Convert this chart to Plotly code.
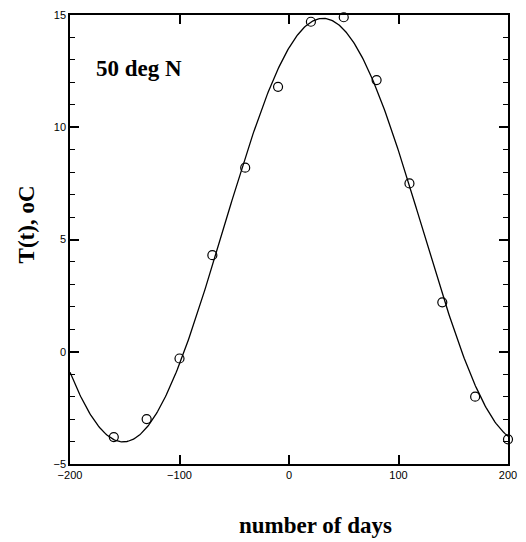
import numpy as np
import plotly.graph_objects as go

# Observed data (days relative to reference, temperature in oC)
days = [-160, -130, -100, -70, -40, -10, 20, 50, 80, 110, 140, 170, 200]
temps = [-3.8, -3.0, -0.3, 4.3, 8.2, 11.8, 14.7, 14.9, 12.1, 7.5, 2.2, -2.0, -3.9]

x_ticks = [-200, -100, 0, 100, 200]
y_ticks = [-5, 0, 5, 10, 15]
period = 365.0

# Least-squares annual harmonic fit of the observations
d = np.array(days, dtype=float)
t = np.array(temps, dtype=float)
w = 2 * np.pi / period
A = np.column_stack([np.ones_like(d), np.cos(w * d), np.sin(w * d)])
coef, *_ = np.linalg.lstsq(A, t, rcond=None)
xf = np.linspace(-200, 200, 401)
yf = coef[0] + coef[1] * np.cos(w * xf) + coef[2] * np.sin(w * xf)

fig = go.Figure()
fig.add_trace(go.Scatter(x=xf, y=yf, mode="lines",
                         line=dict(color="black", width=1.3),
                         hoverinfo="skip", showlegend=False))
fig.add_trace(go.Scatter(x=days, y=temps, mode="markers",
                         marker=dict(symbol="circle-open", size=9,
                                     color="black", line=dict(width=1.2)),
                         showlegend=False, cliponaxis=False))

fig.update_xaxes(range=[x_ticks[0], x_ticks[-1]],
                 tick0=x_ticks[0], dtick=x_ticks[1] - x_ticks[0],
                 ticks="inside", ticklen=9, tickwidth=1.5, tickcolor="black",
                 showline=True, linecolor="black", linewidth=1.5, mirror="ticks",
                 showgrid=False, zeroline=False,
                 tickfont=dict(family="Liberation Sans", size=11, color="black"))
fig.update_yaxes(range=[y_ticks[0], y_ticks[-1]],
                 tick0=y_ticks[0], dtick=y_ticks[1] - y_ticks[0],
                 ticks="inside", ticklen=9, tickwidth=1.5, tickcolor="black",
                 showline=True, linecolor="black", linewidth=1.5, mirror="ticks",
                 showgrid=False, zeroline=False,
                 tickfont=dict(family="Liberation Sans", size=11, color="black"),
                 minor=dict(dtick=1, ticks="inside", ticklen=5, tickwidth=1,
                            tickcolor="black"))

fig.update_layout(
    width=526, height=542,
    margin=dict(l=70, r=9, t=14, b=78),
    plot_bgcolor="white", paper_bgcolor="white",
    annotations=[
        dict(text="<b>50 deg N</b>", xref="paper", yref="paper",
             x=(140 - 70) / 447, y=(464 - 68) / 450,
             showarrow=False, xanchor="center", yanchor="middle",
             font=dict(family="Liberation Serif", size=23, color="black")),
        dict(text="<b>number of days</b>", xref="paper", yref="paper",
             x=(321 - 70) / 447, y=(464 - 526) / 450,
             showarrow=False, xanchor="center", yanchor="middle",
             font=dict(family="Liberation Serif", size=23, color="black")),
        dict(text="<b>T(t), oC</b>", xref="paper", yref="paper",
             x=(26 - 70) / 447, y=(464 - 224) / 450, textangle=-90,
             showarrow=False, xanchor="center", yanchor="middle",
             font=dict(family="Liberation Serif", size=23, color="black")),
    ],
)

fig.write_html("out.html")
